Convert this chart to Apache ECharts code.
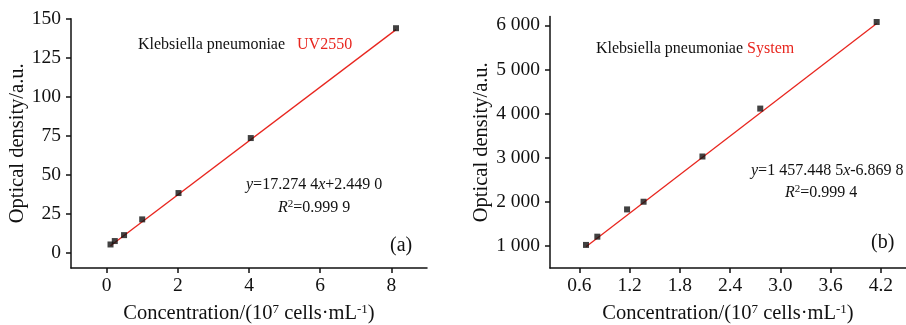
<!DOCTYPE html>
<html>
<head>
<meta charset="utf-8">
<script src="https://cdn.jsdelivr.net/npm/echarts@6/dist/echarts.min.js"></script>
<style>
  html, body { margin: 0; padding: 0; background: #fff; }
  #chart { width: 906px; height: 325px; }
</style>
</head>
<body>
<div id="chart"></div>
<script>
// (a) UV2550
const uvConc = [0.11, 0.23, 0.49, 1.0, 2.02, 4.05, 8.13];
const uvDensity = [5.1, 7.3, 11.1, 21.2, 38.1, 73.4, 143.9];
const uvFit = [[0.11, 4.3], [8.13, 143.0]];
const uvXTicks = [0, 2, 4, 6, 8];
const uvYTicks = [0, 25, 50, 75, 100, 125, 150];

// (b) System
const sysConc = [0.68, 0.815, 1.17, 1.367, 2.07, 2.76, 4.15];
const sysDensity = [1023, 1210, 1828, 2002, 3027, 4113, 6075];
const sysFit = [[0.68, 984], [4.15, 6041]];
const sysXTicks = [0.6, 1.2, 1.8, 2.4, 3.0, 3.6, 4.2];
const sysYTicks = [1000, 2000, 3000, 4000, 5000, 6000];

const FONT = '"Liberation Serif", "DejaVu Serif", serif';
const RED = '#e8261f';

const chart = echarts.init(document.getElementById('chart'));

function pairs(xs, ys) {
  return xs.map((x, i) => [x, ys[i]]);
}

const axisLine = {show: true, onZero: false, lineStyle: {color: '#111', width: 1.5}};
const axisTick = {show: true, inside: false, length: 5, lineStyle: {color: '#111', width: 1.5}};
const labelStyle = {color: '#111', fontFamily: FONT, fontSize: 19.5};
const supRich = {
  sup: {fontFamily: FONT, fontSize: 13, color: '#111', verticalAlign: 'top', padding: [0, 0, 9, 0]}
};
const xName = 'Concentration/(10{sup|7} cells·mL{sup|-1})';

function xAxis(grid, min, max, ticks, fmt) {
  return {
    type: 'value', gridIndex: grid, min, max,
    name: xName, nameLocation: 'middle', nameGap: 35,
    nameTextStyle: {color: '#111', fontFamily: FONT, fontSize: 20.5, rich: supRich},
    axisLine, splitLine: {show: false},
    axisTick: Object.assign({customValues: ticks}, axisTick),
    axisLabel: Object.assign({customValues: ticks, margin: 8, formatter: fmt}, labelStyle)
  };
}

function yAxis(grid, min, max, ticks, gap, fmt) {
  return {
    type: 'value', gridIndex: grid, min, max,
    name: 'Optical density/a.u.', nameLocation: 'middle', nameGap: gap, nameRotate: 90,
    nameTextStyle: {color: '#111', fontFamily: FONT, fontSize: 20.5},
    axisLine, splitLine: {show: false},
    axisTick: Object.assign({customValues: ticks}, axisTick),
    axisLabel: Object.assign({customValues: ticks, margin: 10, formatter: fmt}, labelStyle)
  };
}

function spaced(v) {
  return String(v).replace(/\B(?=(\d{3})+(?!\d))/g, ' ');
}

function text(x, y, str, size, extra) {
  return {
    type: 'text', x, y,
    style: Object.assign({
      text: str, fill: '#111', fontFamily: FONT, fontSize: size, verticalAlign: 'middle',
      rich: {
        r: {fill: RED, fontFamily: FONT, fontSize: size},
        i: {fill: '#111', fontFamily: FONT, fontSize: size, fontStyle: 'italic'},
        s: {fill: '#111', fontFamily: FONT, fontSize: 11, verticalAlign: 'top', padding: [0, 0, 7, 0]}
      }
    }, extra || {})
  };
}

chart.setOption({
  backgroundColor: '#fff',
  animation: false,
  grid: [
    {left: 71, top: 18.7, width: 356, bottom: 57, outerBoundsMode: 'none'},
    {left: 550, top: 16.5, right: 0, bottom: 57, outerBoundsMode: 'none'}
  ],
  xAxis: [
    xAxis(0, -1, 9, uvXTicks, v => String(v)),
    xAxis(1, 0.25, 4.5, sysXTicks, v => v.toFixed(1))
  ],
  yAxis: [
    yAxis(0, -10, 150, uvYTicks, 42, v => String(v)),
    yAxis(1, 500, 6200, sysYTicks, 58, v => spaced(v))
  ],
  series: [
    {type: 'line', xAxisIndex: 0, yAxisIndex: 0, data: uvFit, symbol: 'none',
      lineStyle: {color: RED, width: 1.3}, z: 2},
    {type: 'scatter', xAxisIndex: 0, yAxisIndex: 0, data: pairs(uvConc, uvDensity),
      symbol: 'rect', symbolSize: 6, itemStyle: {color: '#111'}, z: 3},
    {type: 'line', xAxisIndex: 1, yAxisIndex: 1, data: sysFit, symbol: 'none',
      lineStyle: {color: RED, width: 1.3}, z: 2},
    {type: 'scatter', xAxisIndex: 1, yAxisIndex: 1, data: pairs(sysConc, sysDensity),
      symbol: 'rect', symbolSize: 6, itemStyle: {color: '#111'}, z: 3}
  ],
  graphic: [
    text(138, 45, 'Klebsiella pneumoniae   {r|UV2550}', 16),
    text(246, 185, '{i|y}=17.274 4{i|x}+2.449 0', 16),
    text(278, 208, '{i|R}{s|2}=0.999 9', 16),
    text(390, 246, '(a)', 20),
    text(596, 49, 'Klebsiella pneumoniae {r|System}', 16),
    text(751, 171, '{i|y}=1 457.448 5{i|x}-6.869 8', 16),
    text(785, 193, '{i|R}{s|2}=0.999 4', 16),
    text(871, 243, '(b)', 20)
  ]
});
</script>
</body>
</html>
